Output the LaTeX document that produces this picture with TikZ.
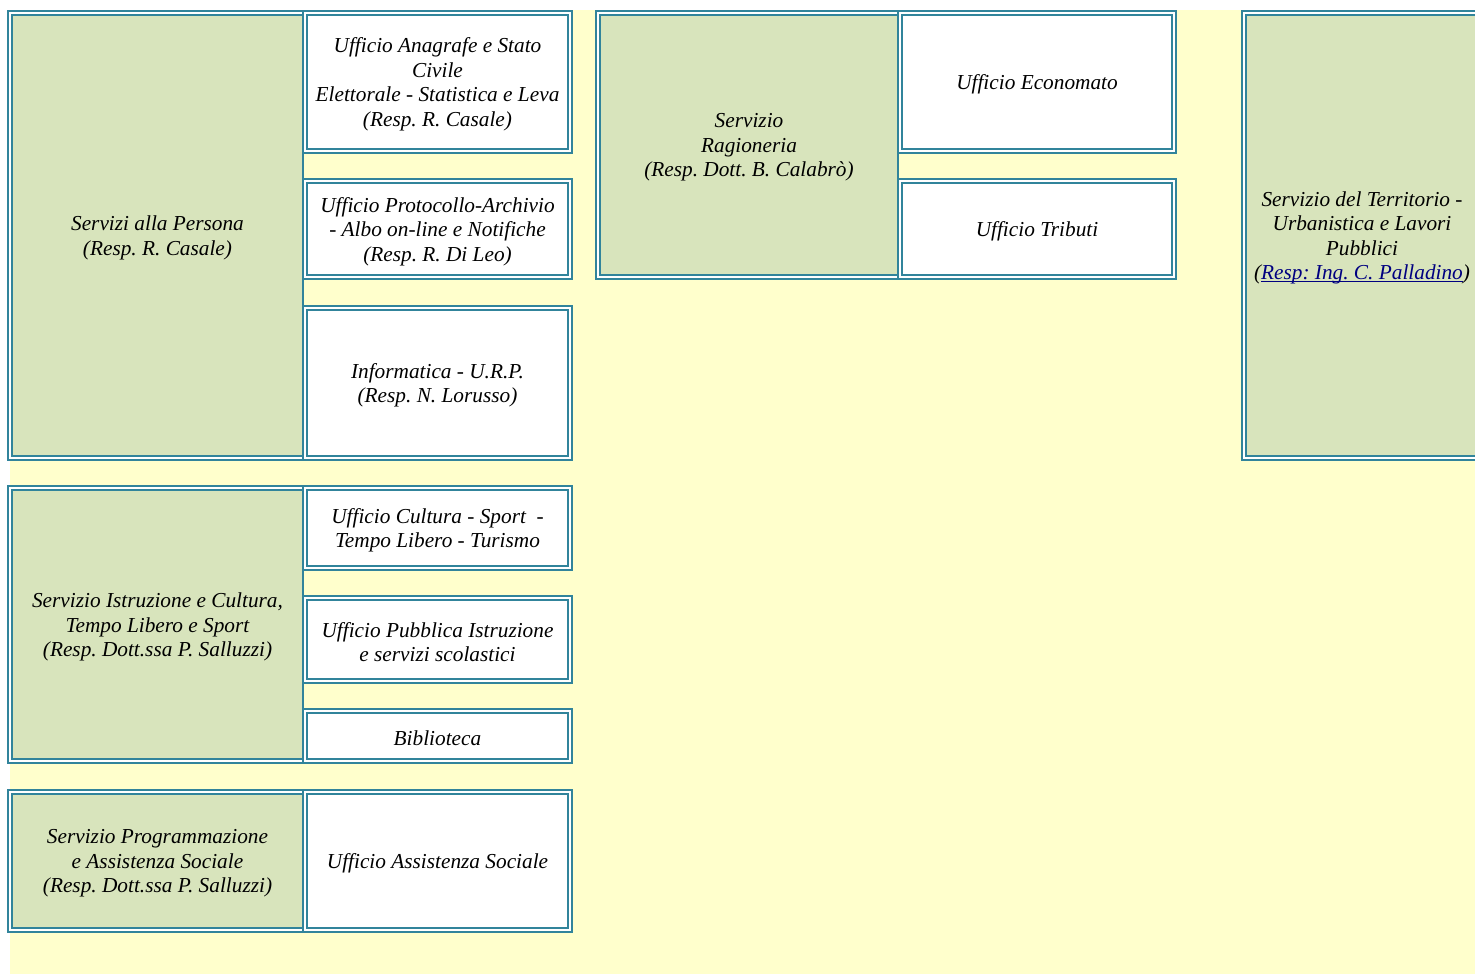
\documentclass[tikz,border=0pt]{standalone}
\usepackage{fontspec}
\setmainfont{Liberation Serif}
\frenchspacing
\definecolor{teal}{HTML}{31849B}
\definecolor{sage}{HTML}{D8E4BC}
\definecolor{paleyellow}{HTML}{FFFFCC}
\definecolor{linkblue}{HTML}{000080}
\newcommand\myul[1]{\setbox0\hbox{#1}\rlap{\rule[-2.2pt]{\wd0}{1.3pt}}\box0}
\tikzset{
  frameout/.style={draw=teal, line width=2pt, fill=white},
  framegreen/.style={draw=teal, line width=2pt, fill=sage},
  framewhite/.style={draw=teal, line width=2pt, fill=white},
  lbl/.style={align=center, inner sep=0pt, yshift=-2.5pt, font=\fontsize{21.3}{24.5}\selectfont\itshape}
}
\begin{document}
\begin{tikzpicture}[x=1pt,y=-1pt]
\useasboundingbox (0,0) rectangle (1475,974);
\fill[white] (0,0) rectangle (1475,974);
\fill[paleyellow] (9.5,10) rectangle (1475,974);

% ---------- Table 1 ----------
\path[frameout] (8,11) rectangle (303,459.7);
\path[framegreen] (12,15) rectangle (303,455.5);
\path[frameout] (303,11) rectangle (572,152.7);
\path[framewhite] (307,15) rectangle (568,148.7);
\path[frameout] (303,178.7) rectangle (572,279);
\path[framewhite] (307,182.7) rectangle (568,275);
\path[frameout] (303,306) rectangle (572,459.7);
\path[framewhite] (307,310) rectangle (568,455.5);

\node[lbl] (persona) at (157.5,235.3) {Servizi alla Persona\\(Resp. R. Casale)};
\node[lbl] (anagrafe) at (437.5,81.9) {Ufficio Anagrafe e Stato\\Civile\\Elettorale - Statistica e Leva\\(Resp. R. Casale)};
\node[lbl] (protocollo) at (437.5,228.9) {Ufficio Protocollo-Archivio\\- Albo on-line e Notifiche\\(Resp. R. Di Leo)};
\node[lbl] (informatica) at (437.5,382.8) {Informatica - U.R.P.\\(Resp. N. Lorusso)};

% ---------- Table Ragioneria ----------
\path[frameout] (596,11) rectangle (898,279);
\path[framegreen] (600,15) rectangle (898,275);
\path[frameout] (898,11) rectangle (1176,152.7);
\path[framewhite] (902,15) rectangle (1172,148.7);
\path[frameout] (898,178.7) rectangle (1176,279);
\path[framewhite] (902,182.7) rectangle (1172,275);

\node[lbl] (ragioneria) at (749,145) {Servizio\\Ragioneria\\(Resp. Dott. B. Calabrò)};
\node[lbl] (economato) at (1037,81.9) {Ufficio Economato};
\node[lbl] (tributi) at (1037,228.9) {Ufficio Tributi};

% ---------- Table Territorio ----------
\path[frameout] (1242,11) rectangle (1490,459.7);
\path[framegreen] (1246,15) rectangle (1482,455.5);
\node[lbl] (territorio) at (1362,235.3) {Servizio del Territorio -\\Urbanistica e Lavori\\Pubblici\\(\textcolor{linkblue}{\myul{Resp: Ing. C. Palladino}})};

% ---------- Table 2 ----------
\path[frameout] (8,486) rectangle (303,763);
\path[framegreen] (12,490) rectangle (303,759);
\path[frameout] (303,486) rectangle (572,570);
\path[framewhite] (307,490) rectangle (568,566);
\path[frameout] (303,596) rectangle (572,683);
\path[framewhite] (307,600) rectangle (568,679);
\path[frameout] (303,709) rectangle (572,763);
\path[framewhite] (307,713) rectangle (568,759);

\node[lbl] (istruzione) at (157.5,624.5) {Servizio Istruzione e Cultura,\\Tempo Libero e Sport\\(Resp. Dott.ssa P. Salluzzi)};
\node[lbl] (cultura) at (437.5,528) {Ufficio Cultura - Sport\ \ -\\Tempo Libero - Turismo};
\node[lbl] (pubblica) at (437.5,639.5) {Ufficio Pubblica Istruzione\\e servizi scolastici};
\node[lbl] (biblioteca) at (437.5,736) {Biblioteca};

% ---------- Table 3 ----------
\path[frameout] (8,790) rectangle (303,931.7);
\path[framegreen] (12,794) rectangle (303,927.5);
\path[frameout] (303,790) rectangle (572,931.7);
\path[framewhite] (307,794) rectangle (568,927.5);

\node[lbl] (programmazione) at (157.5,860.8) {Servizio Programmazione\\e Assistenza Sociale\\(Resp. Dott.ssa P. Salluzzi)};
\node[lbl] (assistenza) at (437.5,860.8) {Ufficio Assistenza Sociale};
\end{tikzpicture}
\end{document}
